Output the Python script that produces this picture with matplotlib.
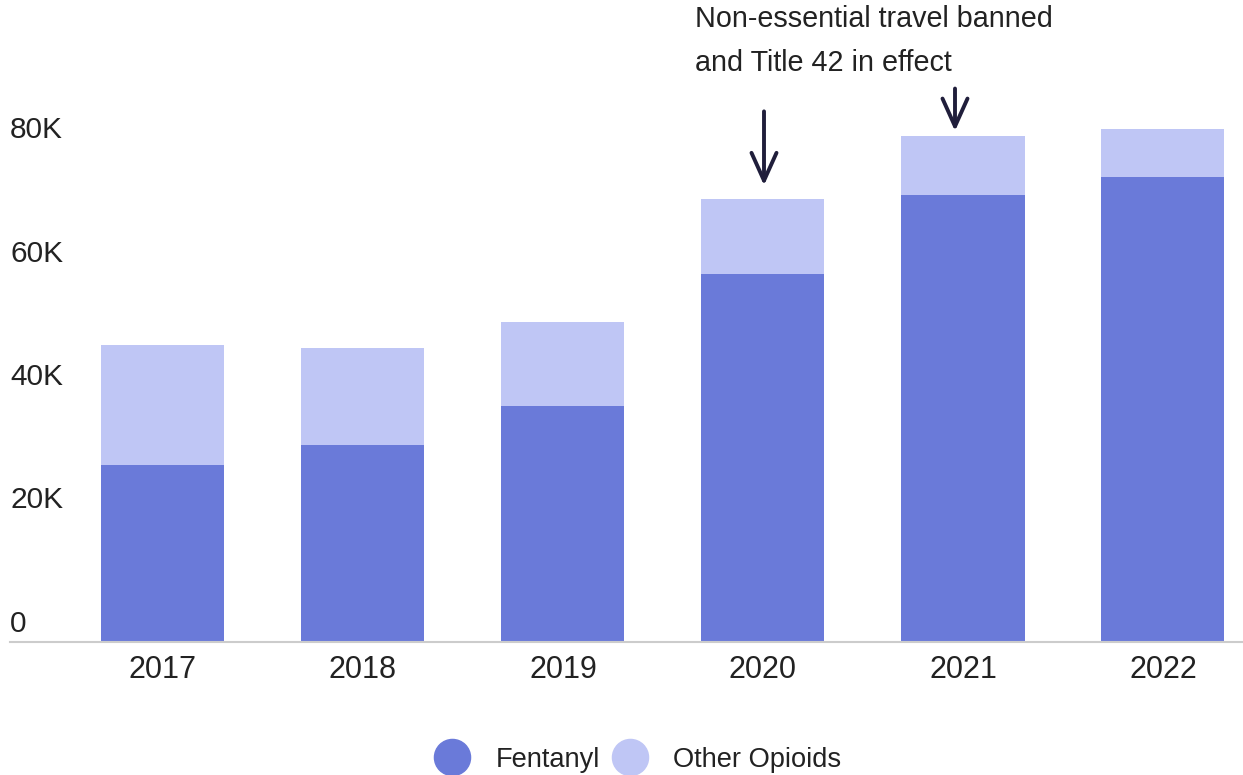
import numpy as np
import matplotlib.pyplot as plt
from matplotlib.lines import Line2D

years = ["2017", "2018", "2019", "2020", "2021", "2022"]
fentanyl = [28.7, 32.0, 38.3, 59.7, 72.5, 75.4]     # thousands
total = [48.2, 47.7, 51.9, 71.9, 82.1, 83.2]
other = [t - f for t, f in zip(total, fentanyl)]
yticks = [0, 20, 40, 60, 80]
ylabels = ["0", "20K", "40K", "60K", "80K"]

c_fent = "#6a7ad9"
c_other = "#bfc6f5"
c_arrow = "#201e3b"

plt.rcParams['font.family'] = ['Liberation Sans', 'DejaVu Sans']

fig = plt.figure(figsize=(12.43, 7.75), dpi=100)
ax = fig.add_axes([10/1243, 1 - 642/775, 1233/1243, 555/775])

x = np.arange(len(years))
ax.bar(x, fentanyl, width=0.615, color=c_fent)
ax.bar(x, other, bottom=fentanyl, width=0.615, color=c_other)

ax.set_xlim(-0.765, 5.4)
ax.set_ylim(0, 90)
for s in ["top", "right", "left"]:
    ax.spines[s].set_visible(False)
ax.spines["bottom"].set_color("#cccccc")
ax.spines["bottom"].set_linewidth(1.5)
ax.set_yticks([])
ax.set_xticks(x)
ax.set_xticklabels(years, fontsize=22, color="#222222")
ax.tick_params(axis="x", length=0, pad=9)

# y labels sit above their value line
for v, lab in zip(yticks, ylabels):
    ax.annotate(lab, xy=(0, v), xycoords=("axes fraction", "data"),
                xytext=(0, 3), textcoords="offset points",
                ha="left", va="bottom", fontsize=21.5, color="#222222")

# arrows
astyle = "->,head_length=2.0,head_width=0.9"
ax.annotate("", xy=(3.005, 73.6), xytext=(3.005, 86.5),
            arrowprops=dict(arrowstyle=astyle, color=c_arrow, lw=2.8),
            annotation_clip=False)
ax.annotate("", xy=(3.96, 82.4), xytext=(3.96, 90.2),
            arrowprops=dict(arrowstyle=astyle, color=c_arrow, lw=2.8),
            annotation_clip=False)
fig.text(695/1243, 1 - 19/775, "Non-essential travel banned", fontsize=20.7,
         color="#222222", ha="left", va="center")
fig.text(695/1243, 1 - 63/775, "and Title 42 in effect", fontsize=20.7,
         color="#222222", ha="left", va="center")

handles = [Line2D([], [], marker="o", ls="", markersize=26, color=c_fent),
           Line2D([], [], marker="o", ls="", markersize=26, color=c_other)]
fig.legend(handles, ["Fentanyl", "Other Opioids"], loc="center",
           bbox_to_anchor=(633/1243, 1 - 760/775), ncol=2, frameon=False,
           fontsize=19.6, handletextpad=0.6, columnspacing=0.1,
           labelcolor="#222222")

fig.savefig("out.png", dpi=100)
